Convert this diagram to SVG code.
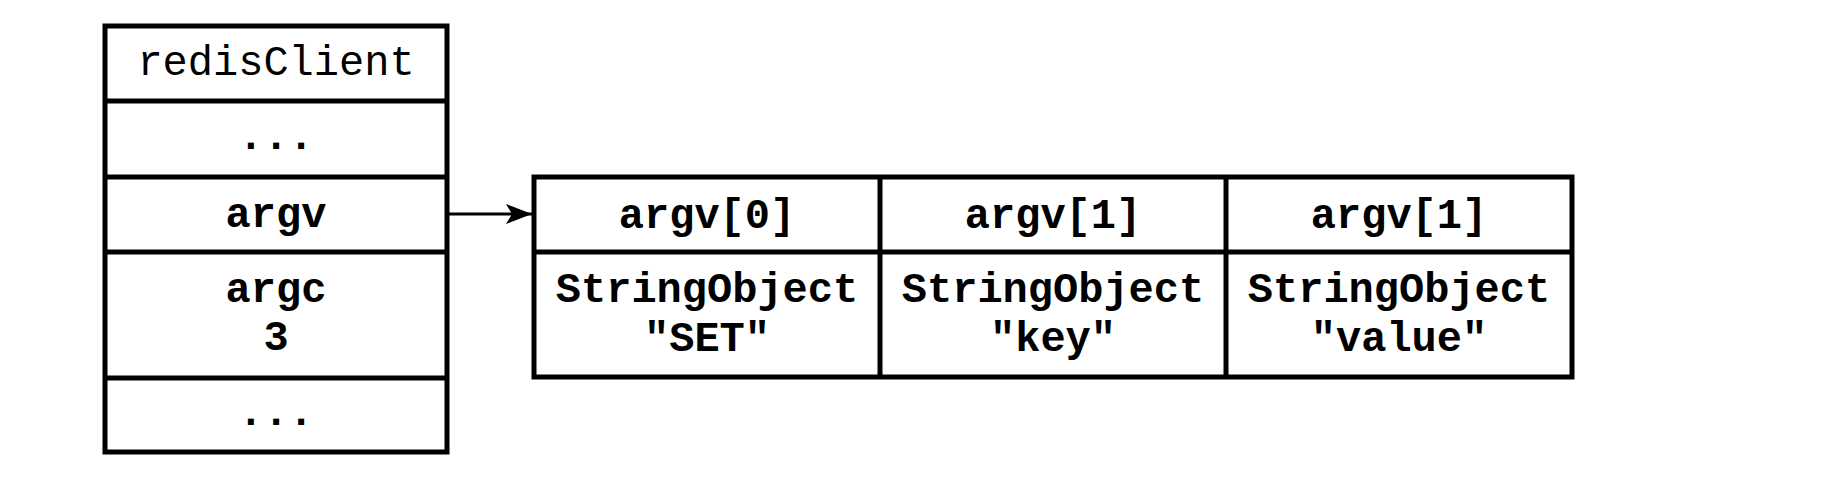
<svg xmlns="http://www.w3.org/2000/svg" width="1824" height="486" viewBox="0 0 1824 486">
  <style>
    .box { fill: #ffffff; stroke: #000000; stroke-width: 5; }
    .div { stroke: #000000; stroke-width: 5; fill: none; }
    .t { font-family: "Liberation Mono", "Courier New", monospace; font-size: 42px; fill: #000000; text-anchor: middle; }
    .b { font-weight: bold; }
    .conn { stroke: #000000; stroke-width: 3; fill: none; }
  </style>
  <defs>
    <marker id="arrow" markerUnits="userSpaceOnUse" markerWidth="28" markerHeight="24" refX="26" refY="12" orient="auto">
      <path d="M0,2 L26,12 L0,22 L6,12 Z" fill="#000000"/>
    </marker>
  </defs>
  <rect width="1824" height="486" fill="#ffffff"/>

  <g id="redisClient">
    <rect class="box" x="105" y="26" width="342" height="426"/>
    <line class="div" x1="105" y1="101" x2="447" y2="101"/>
    <line class="div" x1="105" y1="177" x2="447" y2="177"/>
    <line class="div" x1="105" y1="252" x2="447" y2="252"/>
    <line class="div" x1="105" y1="378" x2="447" y2="378"/>
    <text class="t" x="276" y="75">redisClient</text>
    <text class="t b" x="276" y="149">...</text>
    <text class="t b" x="276" y="227">argv</text>
    <text class="t b" x="276" y="302">argc</text>
    <text class="t b" x="276" y="350">3</text>
    <text class="t b" x="276" y="425">...</text>
  </g>

  <g id="argv-array">
    <rect class="box" x="534" y="177" width="1038" height="200"/>
    <line class="div" x1="534" y1="252" x2="1572" y2="252"/>
    <line class="div" x1="880" y1="177" x2="880" y2="377"/>
    <line class="div" x1="1226" y1="177" x2="1226" y2="377"/>
    <g id="argv0">
      <text class="t b" x="707" y="228">argv[0]</text>
      <text class="t b" x="707" y="302">StringObject</text>
      <text class="t b" x="707" y="351">"SET"</text>
    </g>
    <g id="argv1">
      <text class="t b" x="1053" y="228">argv[1]</text>
      <text class="t b" x="1053" y="302">StringObject</text>
      <text class="t b" x="1053" y="351">"key"</text>
    </g>
    <g id="argv2">
      <text class="t b" x="1399" y="228">argv[1]</text>
      <text class="t b" x="1399" y="302">StringObject</text>
      <text class="t b" x="1399" y="351">"value"</text>
    </g>
  </g>

  <g id="connectors">
    <line class="conn" x1="449" y1="214" x2="532" y2="214" marker-end="url(#arrow)"/>
  </g>
</svg>
